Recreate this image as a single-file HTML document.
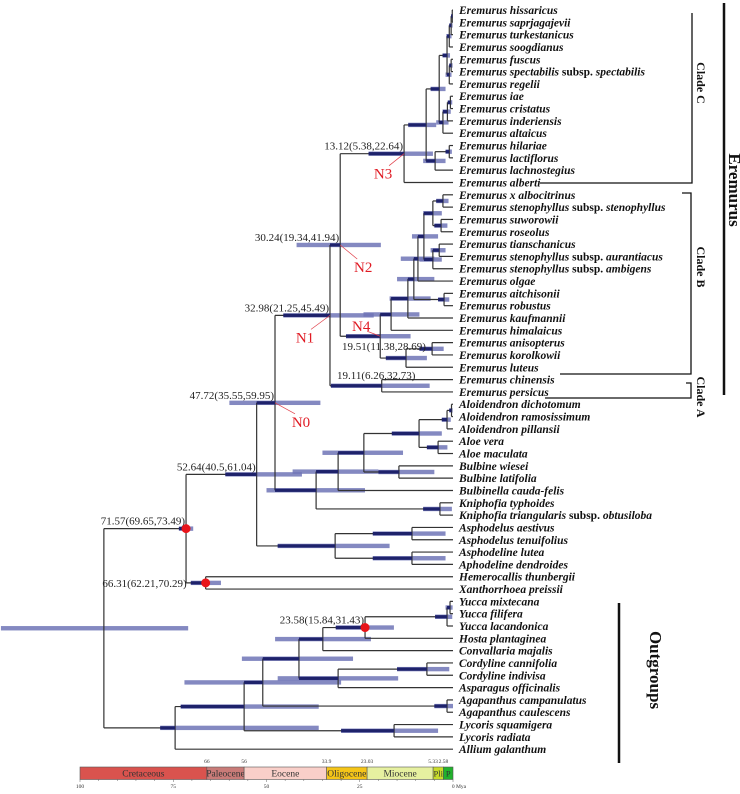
<!DOCTYPE html>
<html><head><meta charset="utf-8"><style>
html,body{margin:0;padding:0;background:#fff;}
svg{display:block;font-family:"Liberation Serif",serif;}
</style></head><body>
<svg id="chart" width="740" height="794" viewBox="0 0 740 794" xmlns="http://www.w3.org/2000/svg">
<g id="bars"></g>
<g id="branches"></g>
<g id="darks"></g>
<g id="tips"></g>
<g id="anns"></g>
<g id="scale"></g>
<g stroke="#111" fill="none">
  <path d="M540 183 H692 V13" stroke-width="1.3"/>
  <path d="M682 193 H691 V374 H560" stroke-width="1.3"/>
  <path d="M686 383 H691 V398 H545" stroke-width="1.3"/>
  <line x1="724" y1="3" x2="724" y2="395" stroke-width="2.5"/>
  <line x1="619" y1="603" x2="619" y2="763" stroke-width="2.5"/>
</g>
<g font-weight="bold" fill="#111">
  <text transform="translate(697,83) rotate(90)" text-anchor="middle" font-size="12">Clade C</text>
  <text transform="translate(697,267) rotate(90)" text-anchor="middle" font-size="12">Clade B</text>
  <text transform="translate(697,397) rotate(90)" text-anchor="middle" font-size="12">Clade A</text>
  <text transform="translate(729,190) rotate(90)" text-anchor="middle" font-size="17">Eremurus</text>
  <text transform="translate(650,670) rotate(90)" text-anchor="middle" font-size="17">Outgroups</text>
</g>
</svg>
<script>
const tipNames = ["Eremurus hissaricus","Eremurus saprjagajevii","Eremurus turkestanicus","Eremurus soogdianus","Eremurus fuscus","Eremurus spectabilis subsp. spectabilis","Eremurus regelii","Eremurus iae","Eremurus cristatus","Eremurus inderiensis","Eremurus altaicus","Eremurus hilariae","Eremurus lactiflorus","Eremurus lachnostegius","Eremurus alberti",
"Eremurus x albocitrinus","Eremurus stenophyllus subsp. stenophyllus","Eremurus suworowii","Eremurus roseolus","Eremurus tianschanicus","Eremurus stenophyllus subsp. aurantiacus","Eremurus stenophyllus subsp. ambigens","Eremurus olgae","Eremurus aitchisonii","Eremurus robustus","Eremurus kaufmannii","Eremurus himalaicus","Eremurus anisopterus","Eremurus korolkowii","Eremurus luteus","Eremurus chinensis","Eremurus persicus",
"Aloidendron dichotomum","Aloidendron ramosissimum","Aloidendron pillansii","Aloe vera","Aloe maculata","Bulbine wiesei","Bulbine latifolia","Bulbinella cauda-felis","Kniphofia typhoides","Kniphofia triangularis subsp. obtusiloba","Asphodelus aestivus","Asphodelus tenuifolius","Asphodeline lutea","Aphodeline dendroides","Hemerocallis thunbergii","Xanthorrhoea preissii",
"Yucca mixtecana","Yucca filifera","Yucca lacandonica","Hosta plantaginea","Convallaria majalis","Cordyline cannifolia","Cordyline indivisa","Asparagus officinalis","Agapanthus campanulatus","Agapanthus caulescens","Lycoris squamigera","Lycoris radiata","Allium galanthum"];
function n(a,lo,hi,...c){return {a:a,lo:lo,hi:hi,c:c};}
const tree = n(93.6,71,121.2,
  n(71.57,69.65,73.49,
    n(52.64,40.5,61.04,
      n(47.72,35.55,59.95,
        n(32.98,21.25,45.49,
          n(30.24,19.34,41.94,
            n(13.12,5.38,22.64,
              n(7.2,4.5,12,
                n(3.7,2,6,
                  n(1.6,0.8,2.8, n(1.0,0.4,1.8, n(0.5,0.1,1, n(0.2,0,0.5,0,1),2),3), n(1.0,0.4,2, n(0.5,0.1,1,4,5),6)),
                  n(2.7,1.2,4.5, n(1.5,0.6,2.8, n(0.7,0.2,1.4,7,8),9),10)),
                n(4.8,2,8, n(1.0,0.3,2,11,12),13)),
              14),
            n(19.51,11.38,28.69,
              n(16.6,9,24,
                n(12.1,6,17,
                  n(10.5,5,15,
                    n(9.4,5,14,
                      n(7.8,4,11,
                        n(5.4,3,8, n(2.7,1.2,4.5,15,16), n(3.2,1.5,5,17,18)),
                        n(5.4,3,9, n(3.7,2,6,19,20),21)),
                      22),
                    n(2.4,1,4,23,24)),
                  25),
                26),
              n(12.6,7,18, n(5.6,2.5,9,27,28),29))),
          n(19.11,6.26,32.73,30,31)),
        n(36.7,23.6,50,
          n(30.8,20,43,
            n(23.9,13.4,35,
              n(9.1,3,16.4, n(1.6,0.6,3, n(0.4,0.1,1,32,33),34), n(4.0,1.5,7,35,36)),
              n(14.5,5,20,37,38)),
            39),
          n(3.5,0.3,8,40,41))),
      n(31.6,17,47, n(11,2,21.5,42,43), n(11,2,21.5,44,45))),
    n(66.31,62.21,70.29,46,47)),
  n(74.5,36,78.5,
    n(56,36,73,
      n(51,30,72,
        n(41.3,26.8,56.6,
          n(34.9,22,47.7,
            n(23.58,15.84,31.43, n(1.6,0.2,4.8, n(0.8,0.1,2,48,49),50),51),
            52),
          n(30.8,14.7,47, n(7,1,15,53,54),55)),
        n(1.6,0,5,56,57)),
      n(15.8,4,30,58,59)),
    60));
const annotations = [[47.72,"47.72(35.55,59.95)"],[32.98,"32.98(21.25,45.49)"],[30.24,"30.24(19.34,41.94)"],[13.12,"13.12(5.38,22.64)"],[19.51,"19.51(11.38,28.69)"],[19.11,"19.11(6.26,32.73)"],[52.64,"52.64(40.5,61.04)"],[71.57,"71.57(69.65,73.49)"],[66.31,"66.31(62.21,70.29)"],[23.58,"23.58(15.84,31.43)"]];
const calibrated = [71.57,66.31,23.58];
const nodeTags = [[47.72,"N0"],[32.98,"N1"],[30.24,"N2"],[13.12,"N3"],[19.51,"N4"]];
const periods = ["Cretaceous","Paleocene","Eocene","Oligocene","Miocene","Pli","P"];
const periodStart = [100,66,56,33.9,23.03,5.33,2.58];
const periodEnd = [66,56,33.9,23.03,5.33,2.58,0];
const periodColors = ["#d9534e","#c97b78","#f9cfc9","#f5c518","#e6f0a0","#c9dc2a","#21b22c"];
const boundaryLabels = ["66","56","33.9","23.03","5.33","2.58"];
const axisTicks = [100,75,50,25,0];

const NS="http://www.w3.org/2000/svg";
const X = a => 453 - 3.73*a;
const Y = i => 10 + 12.32*i;
function mk(tag, attrs, parent){const e=document.createElementNS(NS,tag);for(const k in attrs)e.setAttribute(k,attrs[k]);parent.appendChild(e);return e;}
const gB=document.getElementById('bars'),gL=document.getElementById('branches'),gD=document.getElementById('darks'),gT=document.getElementById('tips'),gA=document.getElementById('anns'),gS=document.getElementById('scale');
const nodePos={};
function layout(nd){
  if(typeof nd==='number') return {x:X(0),y:Y(nd)};
  const ps=nd.c.map(layout);
  const y=(Math.min(...ps.map(p=>p.y))+Math.max(...ps.map(p=>p.y)))/2;
  nd.x=X(nd.a); nd.y=y; nd.ps=ps; nodePos[nd.a]=nd;
  return nd;
}
layout(tree);
function draw(nd,px,isRoot){
  if(typeof nd==='number'){
    const y=Y(nd);
    const l=mk('line',{x1:px,y1:y,x2:X(0),y2:y,stroke:'#333','stroke-width':1.2},gL);
    
    
    return;
  }
  const bar=mk('rect',{x:X(nd.hi),y:nd.y-2.2,width:X(nd.lo)-X(nd.hi),height:4.4,fill:'#6f74b6','fill-opacity':0.85},gB);
  
  
  if(!isRoot){
    const dx0=Math.max(X(nd.hi),px);
    if(nd.x>dx0){
      const d=mk('rect',{x:dx0,y:nd.y-1.6,width:nd.x-dx0,height:3.2,fill:'#1e226b'},gD);
      
      
    }
    const h=mk('line',{x1:px,y1:nd.y,x2:nd.x,y2:nd.y,stroke:'#333','stroke-width':1.2},gL);
    
    
  }
  const ys=nd.c.map(c=>typeof c==='number'?Y(c):c.y);
  const v=mk('line',{x1:nd.x,y1:Math.min(...ys),x2:nd.x,y2:Math.max(...ys),stroke:'#333','stroke-width':1.2},gL);
  
  
  nd.c.forEach(c=>draw(c,nd.x,false));
}
draw(tree,X(tree.a),true);
tipNames.forEach((nm,i)=>{
  const t=mk('text',{x:459,y:Y(i)+4,'font-size':11.5,'font-weight':'bold','font-style':'italic',fill:'#111'},gT);
  
  
  const parts=nm.split(' subsp. ');
  const s1=mk('tspan',{},t); s1.textContent=parts[0];
  if(parts.length>1){const s2=mk('tspan',{'font-style':'normal'},t);s2.textContent=' subsp. ';const s3=mk('tspan',{},t);s3.textContent=parts[1];}
});
annotations.forEach(([a,txt])=>{
  const nd=nodePos[a]; let x=nd.x-1, y=nd.y-4, anc='end';
  if(a===19.51){x=342;y=nd.y+14;anc='start';}
  if(a===19.11){x=337;y=nd.y-7;anc='start';}
  if(a===66.31){x=nd.x-19;y=nd.y+4;}
  const t=mk('text',{x:x,y:y,'text-anchor':anc,'font-size':11,fill:'#222'},gA);
  
  
  t.textContent=txt;
});
calibrated.forEach(a=>{
  const nd=nodePos[a];
  const c=mk('circle',{cx:nd.x,cy:nd.y,r:4.5,fill:'#e8141a'},gA);
  
  
});
const tagOff={ "N0":[26,19],"N1":[-25,22],"N2":[23,22],"N3":[-21,20],"N4":[-19,-10]};
nodeTags.forEach(([a,tg])=>{
  const nd=nodePos[a]; const o=tagOff[tg];
  const tx=nd.x+o[0], ty=nd.y+o[1];
  const l=mk('line',{x1:nd.x,y1:nd.y,x2:tx-(o[0]>0?6:-6),y2:ty-(o[1]>0?8:-5),stroke:'#e0404a','stroke-width':0.7},gA);
  
  
  const t=mk('text',{x:tx,y:ty+5,'text-anchor':'middle','font-size':15,fill:'#e01b24'},gA);
  
  
  t.textContent=tg;
});
periods.forEach((p,i)=>{
  const x0=X(periodStart[i]),x1=X(periodEnd[i]);
  const r=mk('rect',{x:x0,y:767,width:x1-x0,height:12.5,fill:periodColors[i],stroke:'#555','stroke-width':0.6},gS);
  
  
  const t=mk('text',{x:(x0+x1)/2,y:776.5,'text-anchor':'middle','font-size':p.length<4?8.5:9.5,fill:'#333'},gS);
  
  
  t.textContent=p;
});
boundaryLabels.forEach(b=>{
  const t=mk('text',{x:X(parseFloat(b)),y:763,'text-anchor':'middle','font-size':5.5,fill:'#333'},gS);
  
  
  t.textContent=b;
});
for(let a=0;a<=100;a+=5){
  const tk=mk('line',{x1:X(a),y1:779.5,x2:X(a),y2:a%25===0?782:781,stroke:'#666','stroke-width':0.5},gS);
  
  
}
axisTicks.forEach(a=>{
  const t=mk('text',{x:X(a)+(a===0?6:0),y:788,'text-anchor':'middle','font-size':5.5,fill:'#333'},gS);
  
  
  t.textContent=a===0?'0 Mya':String(a);
});
</script>
</body></html>
